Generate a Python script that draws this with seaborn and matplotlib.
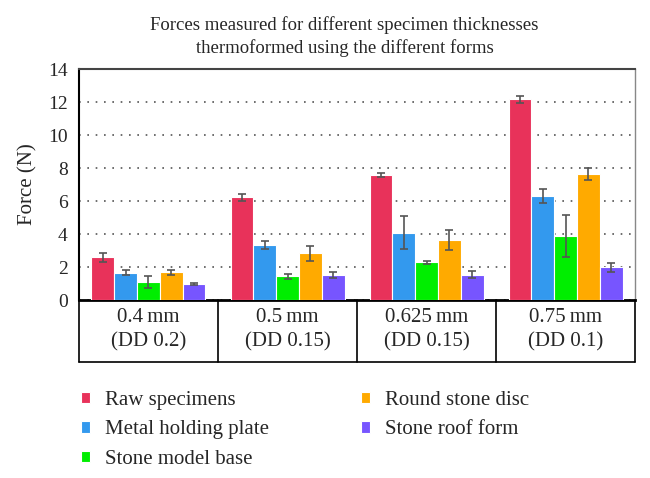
import numpy as np
import pandas as pd
import seaborn as sns
import matplotlib.pyplot as plt
import matplotlib.transforms as mtransforms

groups = ['0.4\u2009mm\n(DD 0.2)', '0.5\u2009mm\n(DD 0.15)', '0.625\u2009mm\n(DD 0.15)', '0.75\u2009mm\n(DD 0.1)']
forms = ['Raw specimens', 'Metal holding plate', 'Stone model base',
         'Round stone disc', 'Stone roof form']

raw = [2.60, 6.22, 7.58, 12.16]
metal = [1.66, 3.33, 4.08, 6.30]
model_base = [1.11, 1.45, 2.30, 3.88]
round_disc = [1.68, 2.83, 3.64, 7.62]
roof = [0.97, 1.52, 1.55, 1.98]

raw_err = [0.27, 0.24, 0.14, 0.22]
metal_err = [0.16, 0.25, 0.99, 0.43]
model_base_err = [0.38, 0.16, 0.08, 1.26]
round_disc_err = [0.15, 0.44, 0.60, 0.36]
roof_err = [0.05, 0.16, 0.23, 0.29]

colors = ['#E8325A', '#3399EE', '#00EE00', '#FFAA00', '#7755FF']

values = [raw, metal, model_base, round_disc, roof]
errors = [raw_err, metal_err, model_base_err, round_disc_err, roof_err]

rows = []
for form, vals, errs in zip(forms, values, errors):
	for g, v, e in zip(groups, vals, errs):
		rows.append((g, form, v, e))
df = pd.DataFrame(rows, columns=['Group', 'Form', 'Force', 'Err'])

sns.set_style('white')
plt.rcParams['font.family'] = ['Liberation Serif', 'DejaVu Serif']

fig = plt.figure(figsize=(6.5, 4.78), dpi=100)
ax = fig.add_axes([0.1215, 0.372, 0.8555, 0.4836])

sns.barplot(data=df, x='Group', y='Force', hue='Form', order=groups,
	hue_order=forms, palette=colors, errorbar=None, width=0.82,
	edgecolor='white', linewidth=0.8, saturation=1, ax=ax, zorder=3)

# error bars placed on the bar centres seaborn produced
for cont, errs in zip(ax.containers, errors):
	xs = [b.get_x() + b.get_width() / 2 for b in cont]
	ys = [b.get_height() for b in cont]
	ax.errorbar(xs, ys, yerr=errs, fmt='none', ecolor='#555555',
		elinewidth=1.2, capsize=3, capthick=1.2, zorder=4)

ax.set_ylim(0, 14)
ax.set_xlim(-0.5, 3.5)
ax.set_yticks(range(0, 15, 2))
ax.yaxis.grid(True, linestyle=(0, (1, 4)), color='#555555', linewidth=1.2, zorder=0)
ax.tick_params(axis='y', length=0, labelsize=14, pad=8)
ax.tick_params(axis='x', length=0)
ax.set_xticklabels([])
ax.set_xlabel('')
ax.set_ylabel('Force (N)', fontsize=15, labelpad=8)

ax.spines['left'].set_color('black')
ax.spines['left'].set_linewidth(1.5)
ax.spines['bottom'].set_color('black')
ax.spines['bottom'].set_linewidth(2)
ax.spines['top'].set_color('#444444')
ax.spines['top'].set_linewidth(1.5)
ax.spines['right'].set_color('#888888')
ax.spines['right'].set_linewidth(1)

# table beneath the axis
trans = mtransforms.blended_transform_factory(ax.transData, ax.transAxes)
tb = -0.268
for xv in np.arange(-0.5, 4.0, 1.0):
	ax.plot([xv, xv], [0, tb], transform=trans, color='black', lw=1.2, clip_on=False)
ax.plot([-0.5, 3.5], [tb, tb], transform=trans, color='black', lw=1.2, clip_on=False)
for i, g in enumerate(groups):
	ax.text(i, tb / 2 + 0.005, g, transform=trans, ha='center', va='center',
		fontsize=15, linespacing=1.35)

handles, labels = ax.get_legend_handles_labels()
ax.legend(handles, labels, loc='upper left', bbox_to_anchor=(-0.012, -0.355),
	ncol=2, frameon=False, fontsize=15, handlelength=0.45, handleheight=0.45,
	handletextpad=0.72, columnspacing=4.4, labelspacing=0.52, borderaxespad=0)

fig.text(0.53, 0.924, 'Forces measured for different specimen thicknesses\nthermoformed using the different forms',
	ha='center', va='center', fontsize=13.5, linespacing=1.4)

plt.savefig('out.png', dpi=100)
